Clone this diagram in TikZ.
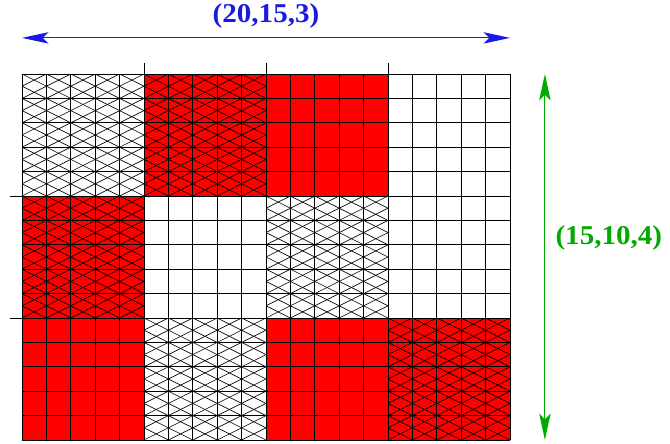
\documentclass[tikz,border=0pt]{standalone}
\usepackage{fontspec}
\setmainfont{Liberation Serif}
\usetikzlibrary{arrows.meta,positioning,calc}
\definecolor{dimblue}{HTML}{1A1AE6}
\definecolor{dimgreen}{HTML}{00AA00}
\definecolor{blkred}{HTML}{FF0000}

\begin{document}
\begin{tikzpicture}[
    x=0.6cm, y=0.6cm,
    font=\rmfamily,
    line width=0.6pt,
    redblk/.style    = {fill=blkred, draw=none},
    hatchline/.style = {draw=black, line width=0.45pt},
    gridline/.style  = {draw=black, line width=0.6pt, step=1},
    tick/.style      = {draw=black, line width=0.6pt},
    bluedim/.style   = {draw=dimblue, line width=0.8pt,
                        {Stealth[length=6.5mm,width=2.8mm,inset=1.4mm]}-{Stealth[length=6.5mm,width=2.8mm,inset=1.4mm]}},
    greendim/.style  = {draw=dimgreen, line width=0.8pt,
                        {Stealth[length=6.5mm,width=2.8mm,inset=1.4mm]}-{Stealth[length=6.5mm,width=2.8mm,inset=1.4mm]}},
    dimlbl/.style    = {font=\fontsize{19}{20}\selectfont\bfseries,
                        xscale=1.07, transform shape, inner sep=0pt},
  ]
  \useasboundingbox (-0.9016,-0.123) rectangle (26.557,18.033);

  % ===================================================================
  % Red blocks (5x5 cells each), (column,row) counted from bottom left
  % ===================================================================
  \foreach \c/\r in {1/2, 2/2, 0/1, 0/0, 2/0, 3/0}
    \fill[redblk] (\c*5,\r*5) rectangle ++(5,5);

  % ===================================================================
  % Cross-hatched blocks
  % ===================================================================
  \foreach \c/\r in {0/2, 1/2, 0/1, 2/1, 1/0, 3/0} {
    \begin{scope}
      \clip (\c*5,\r*5) rectangle ++(5,5);
      \foreach \k in {-5,...,15} {
        \draw[hatchline] (\c*5,\r*5+\k/2) -- ++(5,2.5);
        \draw[hatchline] (\c*5,\r*5+\k/2) -- ++(5,-2.5);
      }
    \end{scope}
  }

  % ===================================================================
  % Cell grid 20 x 15 and block ticks
  % ===================================================================
  \coordinate (gbl) at (0,0);
  \coordinate (gtr) at (20,15);
  \draw[gridline] (gbl) grid (gtr);
  \foreach \c in {5,10,15}
    \draw[tick] (\c,15) -- ++(0,0.47);
  \foreach \r in {5,10}
    \draw[tick] (0,\r) -- ++(-0.5,0);

  % ===================================================================
  % Dimension arrows and labels
  % ===================================================================
  \coordinate (wl) at (0,16.48);
  \coordinate (wr) at (20,16.48);
  \draw[bluedim] (wl) -- (wr);
  \node[dimlbl, text=dimblue] (wlbl) at (10,17.36) {(20,15,3)};

  \coordinate (hb) at (21.43,0);
  \coordinate (ht) at (21.43,15);
  \draw[greendim] (hb) -- (ht);
  \node[dimlbl, text=dimgreen] (hlbl) at (24.05,8.28) {(15,10,4)};

\end{tikzpicture}
\end{document}
